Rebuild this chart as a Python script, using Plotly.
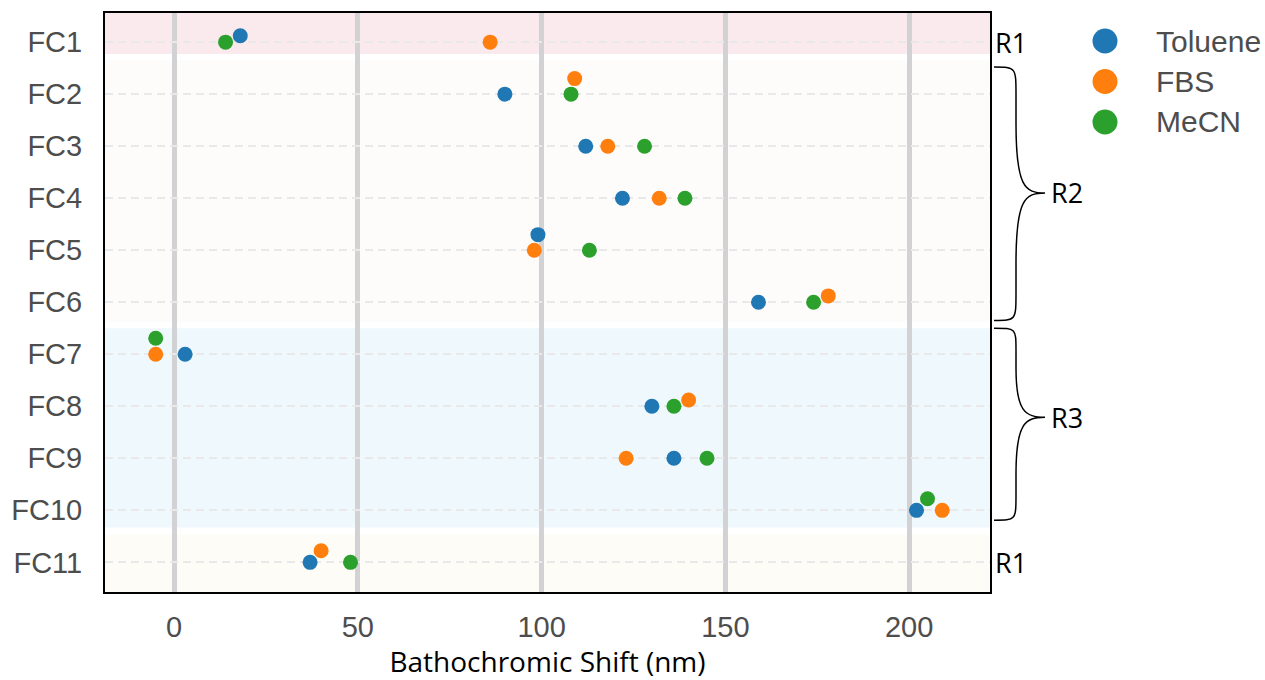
import math
import plotly.graph_objects as go

# ---------------- data ----------------
categories = ["FC1", "FC2", "FC3", "FC4", "FC5", "FC6", "FC7", "FC8", "FC9", "FC10", "FC11"]
series_names = ["Toluene", "FBS", "MeCN"]
toluene = [18, 90, 112, 122, 99, 159, 3, 130, 136, 202, 37]
fbs = [86, 109, 118, 132, 98, 178, -5, 140, 123, 209, 40]
mecn = [14, 108, 128, 139, 113, 174, -5, 136, 145, 205, 48]
x_ticks = [0, 50, 100, 150, 200]
region_labels = ["R1", "R2", "R3", "R1"]

series_values = [toluene, fbs, mecn]
colors = ["#1f77b4", "#ff7f0e", "#2ca02c"]

# ---------------- layout geometry ----------------
W, H = 1265, 680
ML, MR, MT, MB = 105, 275, 13, 88
X_RANGE = [-18.8, 222.0]
Y_RANGE = [10.57, -0.56]
PW = W - ML - MR
PH = H - MT - MB
px_per_x = PW / (X_RANGE[1] - X_RANGE[0])
px_per_y = PH / abs(Y_RANGE[0] - Y_RANGE[1])
MARKER = 15
DODGE = 16.0  # pixel collision diameter for swarm layout

# ---------------- swarm (beeswarm) dodge ----------------
offsets = [[0.0] * len(categories) for _ in series_names]
for ci in range(len(categories)):
    pts = sorted(range(len(series_names)), key=lambda s: (series_values[s][ci], s))
    placed = []  # (xpx, ypx_offset)
    for s in pts:
        xp = series_values[s][ci] * px_per_x
        cands = [0.0]
        for (qx, qy) in placed:
            dx = xp - qx
            if abs(dx) < DODGE:
                dy = math.sqrt(DODGE ** 2 - dx ** 2)
                cands += [qy - dy, qy + dy]
        cands = sorted(set(cands), key=lambda v: (abs(v), v))
        chosen = 0.0
        for c in cands:
            if all(math.hypot(xp - qx, c - qy) >= DODGE - 1e-6 for (qx, qy) in placed):
                chosen = c
                break
        placed.append((xp, chosen))
        offsets[s][ci] = chosen / px_per_y

fig = go.Figure()
for s, name in enumerate(series_names):
    fig.add_trace(go.Scatter(
        x=series_values[s],
        y=[i + offsets[s][i] for i in range(len(categories))],
        mode="markers",
        name=name,
        marker=dict(size=MARKER, color=colors[s], line=dict(width=0)),
        showlegend=False,
        customdata=categories,
        hovertemplate="%{customdata}: %{x} nm<extra>" + name + "</extra>",
    ))

# ---------------- background bands ----------------
bands = [(-0.56, 0.23, "rgb(250,233,237)"),
         (0.35, 5.38, "rgb(253,252,250)"),
         (5.50, 9.33, "rgb(239,248,252)"),
         (9.46, 10.57, "rgb(253,252,247)")]
shapes = []
for y0, y1, col in bands:
    shapes.append(dict(type="rect", xref="paper", yref="y", x0=0, x1=1, y0=y0, y1=y1,
                       fillcolor=col, line=dict(width=0), layer="below"))

def px_to_paper_x(px):
    return (px - ML) / PW

def py_to_paper(py):
    return 1 - (py - MT) / PH

def ypx(v):
    return MT + (v - Y_RANGE[1]) * px_per_y

# curly braces (pixel geometry)
def brace(ya, yb, ym, x0=994, xv=1016, xt=1045):
    h1 = ym - ya
    h2 = yb - ym
    k1 = min(28, h1 * 0.25)
    k2 = min(28, h2 * 0.25)
    def P(x, y):
        return f"{px_to_paper_x(x):.5f},{py_to_paper(y):.5f}"
    d = (f"M {P(x0, ya)} C {P(xv, ya)} {P(xv, ya)} {P(xv, ya + k1)} "
         f"L {P(xv, ym - h1 * 0.55)} "
         f"C {P(xv, ym - 6)} {P(xt - 20, ym)} {P(xt, ym)} "
         f"C {P(xt - 20, ym)} {P(xv, ym + 6)} {P(xv, ym + h2 * 0.55)} "
         f"L {P(xv, yb - k2)} C {P(xv, yb)} {P(xv, yb)} {P(x0, yb)}")
    return d

braces = [(0.48, 5.35, 2.90), (5.5, 9.19, 7.21)]
for a, b, m in braces:
    shapes.append(dict(type="path", xref="paper", yref="paper",
                       path=brace(ypx(a), ypx(b), ypx(m)),
                       line=dict(color="black", width=1.5), layer="above"))

annotations = []
label_font = dict(family="Open Sans, Noto Sans, sans-serif", size=27, color="black")
annotations.append(dict(x=px_to_paper_x(993), y=0, xref="paper", yref="y", text=region_labels[0],
                        showarrow=False, xanchor="left", yanchor="middle", font=label_font))
for (a, b, m), lab in zip(braces, region_labels[1:3]):
    annotations.append(dict(x=px_to_paper_x(1049), y=m, xref="paper", yref="y", text=lab,
                            showarrow=False, xanchor="left", yanchor="middle", font=label_font))
annotations.append(dict(x=px_to_paper_x(993), y=len(categories) - 1, xref="paper", yref="y",
                        text=region_labels[3], showarrow=False, xanchor="left", yanchor="middle",
                        font=label_font))

# manual legend
for s, name in enumerate(series_names):
    cy = py_to_paper(41 + 40.5 * s)
    shapes.append(dict(type="circle", xref="paper", yref="paper",
                       xsizemode="pixel", ysizemode="pixel",
                       xanchor=px_to_paper_x(1105), yanchor=cy,
                       x0=-12.5, x1=12.5, y0=-12.5, y1=12.5,
                       fillcolor=colors[s], line=dict(width=0)))
    annotations.append(dict(x=px_to_paper_x(1154), y=cy, xref="paper", yref="paper", text=name,
                            showarrow=False, xanchor="left", yanchor="middle",
                            font=dict(family="Liberation Sans, Arial, sans-serif", size=30,
                                      color="#4d4d4d")))

tick_font = dict(family="Liberation Sans, Arial, sans-serif", size=29, color="#4d4d4d")

fig.update_layout(
    width=W, height=H,
    margin=dict(l=ML, r=MR, t=MT, b=MB, pad=0),
    paper_bgcolor="white", plot_bgcolor="white",
    shapes=shapes, annotations=annotations,
    showlegend=False,
    xaxis=dict(range=X_RANGE, tickvals=x_ticks, showgrid=True, gridcolor="rgb(210,210,213)",
               gridwidth=4.5, zeroline=False, showline=True, linecolor="black", linewidth=2,
               mirror=True, ticks="", tickfont=tick_font, ticklabelstandoff=8, automargin=False,
               title=dict(text="Bathochromic Shift (nm)", standoff=8,
                          font=dict(family="Open Sans, Noto Sans, sans-serif", size=28,
                                    color="black"))),
    yaxis=dict(range=Y_RANGE, tickvals=list(range(len(categories))), ticktext=categories,
               showgrid=True, gridcolor="rgb(233,233,233)", gridwidth=2, griddash="8px,5px",
               zeroline=False, showline=True, linecolor="black", linewidth=2, mirror=True,
               ticks="", tickfont=tick_font, ticklabelstandoff=15, automargin=False),
)

fig.write_html("out.html")
